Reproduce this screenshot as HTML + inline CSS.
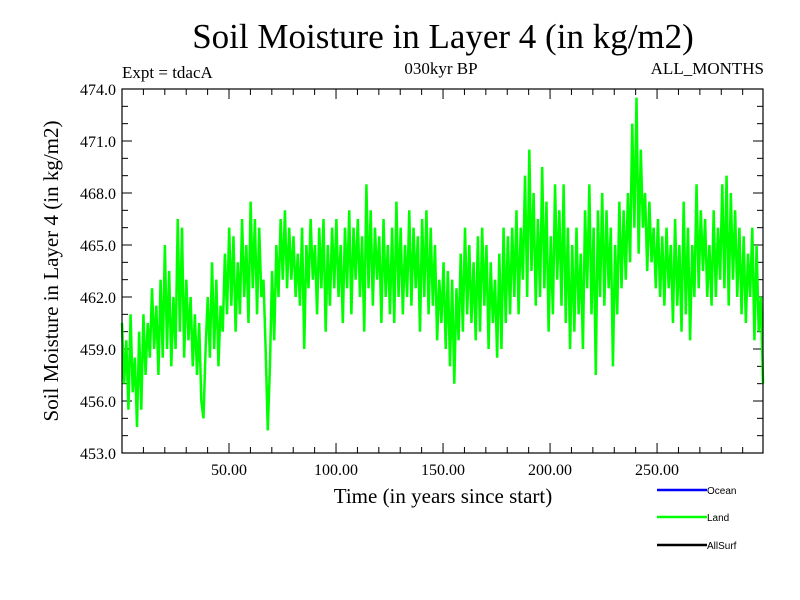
<!DOCTYPE html>
<html><head><meta charset="utf-8"><style>
body{margin:0;background:#fff;}
svg{display:block;font-family:"Liberation Serif",serif;}
</style></head><body>
<svg id="chart" width="800" height="600">
<rect width="800" height="600" fill="#fff"/>
<text x="443" y="48" font-size="35" text-anchor="middle">Soil Moisture in Layer 4 (in kg/m2)</text>
<text x="122" y="78" font-size="17">Expt = tdacA</text>
<text x="441" y="74" font-size="17" text-anchor="middle">030kyr BP</text>
<text x="764" y="74" font-size="17" text-anchor="end">ALL_MONTHS</text>
<text transform="translate(58,271) rotate(-90)" font-size="21" text-anchor="middle">Soil Moisture in Layer 4 (in kg/m2)</text>
<text x="443" y="503" font-size="21" text-anchor="middle">Time (in years since start)</text>
<g id="ticks"></g>
<g id="plot"></g>
<rect x="122" y="89" width="641" height="364" fill="none" stroke="#000" stroke-width="1.2"/>
<g font-family="'Liberation Sans',sans-serif" font-size="10">
<line x1="657" y1="490" x2="707" y2="490" stroke="#0000ff" stroke-width="2.5"/>
<text x="707" y="494">Ocean</text>
<line x1="657" y1="517" x2="707" y2="517" stroke="#00ff00" stroke-width="2.5"/>
<text x="707" y="521">Land</text>
<line x1="657" y1="545" x2="707" y2="545" stroke="#000" stroke-width="2.5"/>
<text x="707" y="549">AllSurf</text>
</g>
</svg>
<script>
const xTickValues=[50,100,150,200,250];
const xTickLabels=["50.00","100.00","150.00","200.00","250.00"];
const yTickValues=[453,456,459,462,465,468,471,474];
const yTickLabels=["453.0","456.0","459.0","462.0","465.0","468.0","471.0","474.0"];
const landValues=[
460.5,457.0,459.5,455.5,461.0,456.5,458.5,454.5,460.0,455.5,
461.0,457.5,460.5,458.5,462.5,459.0,461.5,457.5,463.0,458.5,
465.0,459.0,463.5,458.0,462.0,459.0,466.5,460.0,466.0,458.5,
463.0,459.5,462.0,458.0,461.0,457.5,460.5,456.0,455.0,459.0,
462.0,458.5,464.0,459.0,463.0,458.0,461.5,460.0,464.5,461.0,
466.0,461.5,465.5,460.0,464.0,461.0,466.5,462.0,465.0,460.5,
467.5,462.5,466.5,461.0,466.0,462.0,463.0,459.0,454.3,458.0,
463.5,459.5,465.0,462.0,466.5,463.0,467.0,462.5,466.0,463.0,
465.5,462.0,464.5,461.5,466.0,459.0,465.0,462.5,466.5,463.0,
465.0,461.0,466.0,462.5,466.5,460.0,465.0,461.5,466.0,462.5,
466.5,462.0,465.0,460.5,466.0,462.5,467.0,461.0,466.0,463.0,
466.5,462.0,465.5,460.0,468.5,462.5,467.0,461.5,466.0,463.0,
465.5,460.5,466.5,462.0,465.0,461.0,466.0,460.5,467.5,462.0,
466.0,461.0,465.0,462.0,467.0,461.5,466.0,462.5,465.5,460.0,
466.5,462.0,467.0,461.0,466.0,461.5,465.0,459.5,463.0,460.5,
464.0,459.0,463.5,458.0,463.0,457.0,462.5,459.5,464.5,460.0,
466.0,461.0,465.0,460.5,464.0,459.5,465.5,460.0,466.0,461.5,
465.0,459.0,464.0,460.5,463.0,458.5,464.5,459.0,466.0,460.5,
465.5,461.0,466.0,462.0,467.0,461.0,466.0,463.0,469.0,462.0,
470.5,463.5,468.0,461.5,466.5,462.0,469.5,462.5,467.5,460.0,
465.5,461.0,468.5,463.0,467.0,461.5,468.5,460.5,466.0,459.0,
465.0,460.0,466.0,461.0,464.5,459.0,467.0,462.5,468.5,461.0,
466.0,457.5,467.0,462.0,468.0,461.5,467.0,462.5,466.0,458.0,
465.0,461.0,467.5,462.5,467.0,463.0,468.0,464.0,472.0,466.0,
473.5,464.5,470.5,466.0,468.0,463.5,467.5,464.0,466.0,462.5,
466.5,462.0,465.5,461.5,466.0,462.5,465.0,460.5,466.5,461.5,
465.0,460.0,467.5,461.0,466.0,459.5,465.0,462.0,468.5,462.5,
467.0,463.5,466.5,462.0,465.0,461.5,467.0,462.0,466.0,463.0,
468.5,462.5,469.0,461.5,468.0,463.0,467.0,462.0,466.0,461.0,
465.5,460.5,464.5,462.0,466.0,459.5,465.0,460.0,462.0,457.0];
const NS="http://www.w3.org/2000/svg";
const X0=122,X1=763,Y0=453,Y1=89,XMIN=0,XMAX=299.5,YMIN=453,YMAX=474;
function xs(v){return X0+(v-XMIN)/(XMAX-XMIN)*(X1-X0);}
function ys(v){return Y0-(v-YMIN)/(YMAX-YMIN)*(Y0-Y1);}
const ticks=document.getElementById('ticks');
function ln(x1,y1,x2,y2){const l=document.createElementNS(NS,'line');l.setAttribute('x1',x1);l.setAttribute('y1',y1);l.setAttribute('x2',x2);l.setAttribute('y2',y2);l.setAttribute('stroke','#000');l.setAttribute('stroke-width','1');


ticks.appendChild(l);}
for(let v=10;v<XMAX;v+=10){const x=xs(v);const big=v%50===0;const len=big?10:6;ln(x,Y0,x,Y0-len);ln(x,Y1,x,Y1+len);}
for(let v=YMIN+1;v<YMAX;v++){const y=ys(v);const big=(v-YMIN)%3===0;const len=big?10:6;ln(X0,y,X0+len,y);ln(X1,y,X1-len,y);}
xTickValues.forEach((v,i)=>{const t=document.createElementNS(NS,'text');t.setAttribute('x',xs(v));t.setAttribute('y',Y0+22);t.setAttribute('font-size','16');t.setAttribute('text-anchor','middle');t.textContent=xTickLabels[i];


ticks.appendChild(t);});
yTickValues.forEach((v,i)=>{const t=document.createElementNS(NS,'text');t.setAttribute('x',X0-6);t.setAttribute('y',ys(v)+6);t.setAttribute('font-size','16');t.setAttribute('text-anchor','end');t.textContent=yTickLabels[i];


ticks.appendChild(t);});
const pts=landValues.map((v,i)=>xs(i*(XMAX/(landValues.length-1)))+','+ys(v)).join(' ');
const pl=document.createElementNS(NS,'polyline');
pl.setAttribute('points',pts);pl.setAttribute('fill','none');pl.setAttribute('stroke','#00ff00');pl.setAttribute('stroke-width','2.5');pl.setAttribute('stroke-linejoin','miter');


document.getElementById('plot').appendChild(pl);
</script>
</body></html>
